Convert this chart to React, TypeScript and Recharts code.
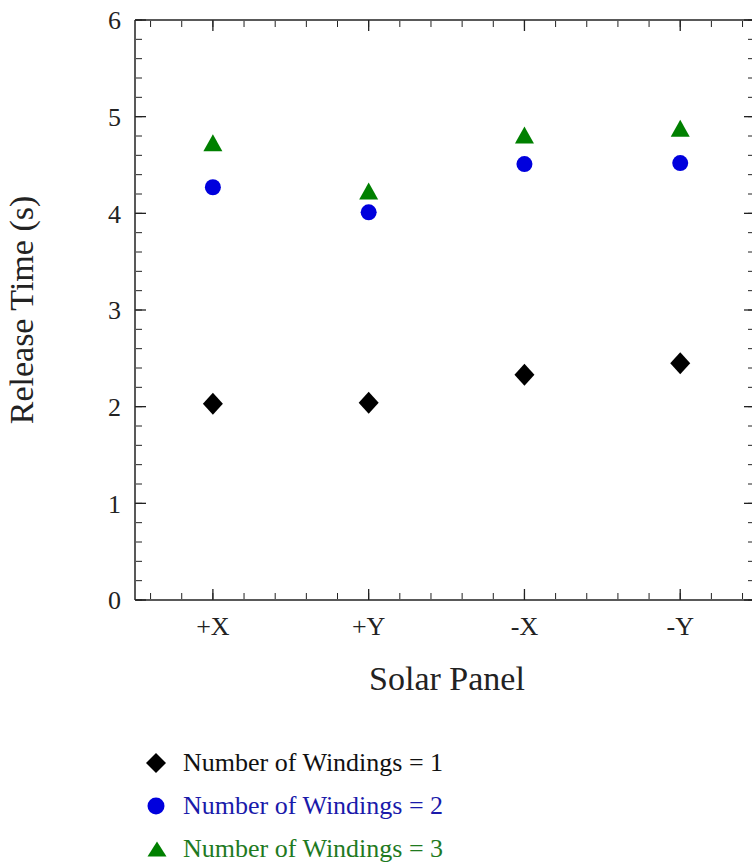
import { ScatterChart, Scatter, XAxis, YAxis, Legend, Label } from "recharts"

const CATEGORIES = ["+X", "+Y", "-X", "-Y"]
const WINDINGS_1 = [2.03, 2.04, 2.33, 2.45]
const WINDINGS_2 = [4.27, 4.01, 4.51, 4.52]
const WINDINGS_3 = [4.73, 4.23, 4.81, 4.88]
const SERIES_NAMES = ["Number of Windings = 1", "Number of Windings = 2", "Number of Windings = 3"]
const Y_TICKS = [0, 1, 2, 3, 4, 5, 6]
const X_TICKS = [1, 2, 3, 4]
const X_DOMAIN = [0.5, 4.48]
const Y_DOMAIN = [0, 6]

const FONT = "Liberation Serif, Tinos, Times New Roman, DejaVu Serif, serif"
const AXIS_COLOR = "#222"
const COLORS = ["#000000", "#0000dd", "#008000"]
const TEXT_COLORS = ["#111111", "#1a1aaa", "#1f7a1f"]

// minor tick positions every 0.2 units
const steps = (from: number, to: number, step: number) => {
  const out: number[] = []
  for (let i = 0; from + i * step <= to + 1e-9; i++) out.push(+(from + i * step).toFixed(2))
  return out
}
const X_MINOR = steps(0.6, 4.4, 0.2)
const Y_MINOR = steps(0, 6, 0.2)

const toPoints = (values: number[]) => values.map((v, i) => ({ x: i + 1, y: v, panel: CATEGORIES[i] }))

const diamondPath = (cx: number, cy: number, w: number, h: number) =>
  `M${cx},${cy - h} L${cx + w},${cy} L${cx},${cy + h} L${cx - w},${cy} Z`
const trianglePath = (cx: number, cy: number, w: number, h: number) =>
  `M${cx},${cy - h} L${cx + w},${cy + h} L${cx - w},${cy + h} Z`

const DiamondShape = (p: any) => <path d={diamondPath(p.cx, p.cy, 10, 11)} fill={COLORS[0]} />
const CircleShape = (p: any) => <circle cx={p.cx} cy={p.cy} r={8} fill={COLORS[1]} />
const TriangleShape = (p: any) => <path d={trianglePath(p.cx, p.cy, 9.5, 8.5)} fill={COLORS[2]} />
const Hidden = () => <g />

function LegendContent() {
  const rowY = [23, 66, 109]
  return (
    <svg width={440} height={130}>
      <path d={diamondPath(26, rowY[0], 10, 10)} fill={COLORS[0]} />
      <circle cx={26} cy={rowY[1]} r={8.5} fill={COLORS[1]} />
      <path d={trianglePath(27, rowY[2], 9.5, 7.5)} fill={COLORS[2]} />
      {SERIES_NAMES.map((name, i) => (
        <text key={name} x={53} y={rowY[i] + 8} style={{ fontFamily: FONT }} fontSize={26} fill={TEXT_COLORS[i]}>
          {name}
        </text>
      ))}
    </svg>
  )
}

const tickStyle = { fontSize: 26, fill: "#222", style: { fontFamily: FONT } }
const tickLineMajor = { stroke: AXIS_COLOR, strokeWidth: 1.3 }
const tickLineMinor = { stroke: AXIS_COLOR, strokeWidth: 1 }
const frameLine = { stroke: AXIS_COLOR, strokeWidth: 1.5 }

// tick-only axis pairs, each bound to an invisible copy of a series so the axis gets a scale
const TICK_AXES = [
  { x: "bMaj", y: "lMaj", xTicks: X_TICKS, yTicks: Y_TICKS, size: 11, line: tickLineMajor, xSide: "bottom", ySide: "left" },
  { x: "bMin", y: "lMin", xTicks: X_MINOR, yTicks: Y_MINOR, size: 6, line: tickLineMinor, xSide: "bottom", ySide: "left" },
  { x: "tMaj", y: "rMaj", xTicks: X_TICKS, yTicks: Y_TICKS, size: 11, line: tickLineMajor, xSide: "top", ySide: "right" },
  { x: "tMin", y: "rMin", xTicks: X_MINOR, yTicks: Y_MINOR, size: 6, line: tickLineMinor, xSide: "top", ySide: "right" },
] as const

export default function App() {
  return (
    <div style={{ position: "absolute", left: 0, top: 0, width: 752, height: 866, overflow: "hidden", background: "#fff", fontFamily: FONT }}>
      <ScatterChart width={766} height={866} margin={{ top: 20, right: 11, bottom: 0, left: 0 }}>
        {/* labelled axes */}
        <XAxis
          xAxisId="x"
          type="number"
          dataKey="x"
          domain={X_DOMAIN}
          allowDataOverflow
          ticks={X_TICKS}
          interval={0}
          height={266}
          tickLine={false}
          tickSize={0}
          tickMargin={17}
          tickFormatter={(v) => CATEGORIES[v - 1]}
          tick={tickStyle}
          axisLine={frameLine}
        >
          <Label
            content={() => (
              <text x={447} y={690} textAnchor="middle" style={{ fontFamily: FONT }} fontSize={34} fill="#222">
                Solar Panel
              </text>
            )}
          />
        </XAxis>
        <YAxis
          yAxisId="y"
          type="number"
          dataKey="y"
          domain={Y_DOMAIN}
          ticks={Y_TICKS}
          interval={0}
          width={135}
          tickLine={false}
          tickSize={0}
          tickMargin={14}
          tick={tickStyle}
          axisLine={frameLine}
        >
          <Label
            content={({ viewBox }: any) => {
              const cy = viewBox.y + viewBox.height / 2
              return (
                <text x={33} y={cy} transform={`rotate(-90 33 ${cy})`} textAnchor="middle" style={{ fontFamily: FONT }} fontSize={34} fill="#222">
                  Release Time (s)
                </text>
              )
            }}
          />
        </YAxis>

        {TICK_AXES.map((a) => (
          <XAxis
            key={a.x}
            xAxisId={a.x}
            orientation={a.xSide}
            mirror
            type="number"
            dataKey="x"
            domain={X_DOMAIN}
            allowDataOverflow
            ticks={a.xTicks as any}
            interval={0}
            height={1}
            tick={Hidden}
            tickSize={a.size}
            axisLine={a.x === "tMaj" ? frameLine : false}
            tickLine={a.line}
          />
        ))}
        {TICK_AXES.map((a) => (
          <YAxis
            key={a.y}
            yAxisId={a.y}
            orientation={a.ySide}
            mirror
            type="number"
            dataKey="y"
            domain={Y_DOMAIN}
            allowDataOverflow
            ticks={a.yTicks as any}
            interval={0}
            width={1}
            tick={Hidden}
            tickSize={a.size}
            axisLine={false}
            tickLine={a.line}
          />
        ))}
        {TICK_AXES.map((a) => (
          <Scatter
            key={`h-${a.x}`}
            xAxisId={a.x}
            yAxisId={a.y}
            data={toPoints(WINDINGS_1)}
            shape={Hidden}
            legendType="none"
            isAnimationActive={false}
          />
        ))}

        <Scatter xAxisId="x" yAxisId="y" name={SERIES_NAMES[0]} data={toPoints(WINDINGS_1)} fill={COLORS[0]} shape={DiamondShape} isAnimationActive={false} />
        <Scatter xAxisId="x" yAxisId="y" name={SERIES_NAMES[1]} data={toPoints(WINDINGS_2)} fill={COLORS[1]} shape={CircleShape} isAnimationActive={false} />
        <Scatter xAxisId="x" yAxisId="y" name={SERIES_NAMES[2]} data={toPoints(WINDINGS_3)} fill={COLORS[2]} shape={TriangleShape} isAnimationActive={false} />

        <Legend
          layout="vertical"
          align="center"
          verticalAlign="middle"
          content={() => <LegendContent />}
          wrapperStyle={{ position: "absolute", left: 130, top: 740, width: 440, height: 130 }}
        />
      </ScatterChart>
    </div>
  )
}
